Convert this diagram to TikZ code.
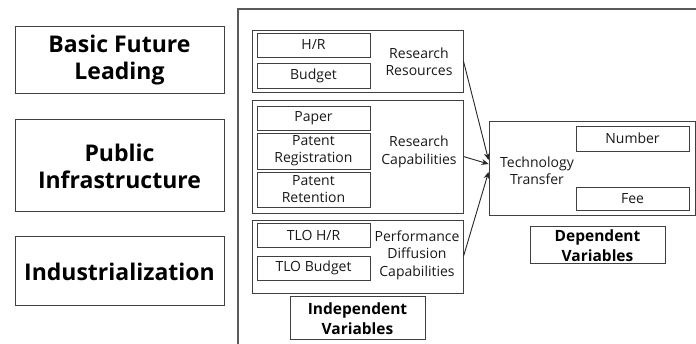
\documentclass[tikz,border=0pt]{standalone}
\usepackage{fontspec}
\setmainfont{Open Sans}
\usetikzlibrary{arrows.meta}

\tikzset{
  box/.style={draw=black!75, line width=0.9pt, inner sep=0pt, align=center, text=black!90, font=\fontsize{14}{17}\selectfont},
  bigbox/.style={box, line width=1pt, text=black, font=\fontsize{23}{27}\selectfont\bfseries},
  varbox/.style={box, line width=1pt, text=black, font=\fontsize{15.5}{20}\selectfont\bfseries},
  label/.style={align=center, inner sep=0pt, text=black!90, font=\fontsize{14}{17.5}\selectfont},
  link/.style={draw=black!85, line width=0.9pt, -{Stealth[length=7pt,width=6pt]}}
}

\begin{document}
\begin{tikzpicture}[x=1pt, y=-1pt]
\useasboundingbox (0,0) rectangle (696,344);

% left column
\node[bigbox, minimum width=209pt, minimum height=67pt] (basic) at (119.5,60.5) {Basic Future\\Leading};
\node[bigbox, minimum width=209pt, minimum height=92pt] (public) at (119.5,166) {Public\\Infrastructure};
\node[bigbox, minimum width=209pt, minimum height=69pt] (indus) at (119.5,271.5) {Industrialization};

% outer frame, cut by the page
\draw[black!65, line width=1.6pt] (238,346) |- (698,9);

% groups
\node[box, minimum width=211pt, minimum height=62pt] (res) at (357.5,61) {};
\node[box, minimum width=211pt, minimum height=113pt] (cap) at (357.5,156.5) {};
\node[box, minimum width=211pt, minimum height=73pt] (perf) at (357.5,256.5) {};

\node[box, minimum width=113pt, minimum height=24pt] (hr) at (313.5,45) {H/R};
\node[box, minimum width=113pt, minimum height=25pt] (budget) at (313.5,75.5) {Budget};
\node[box, minimum width=113pt, minimum height=24pt] (paper) at (313.5,118) {Paper};
\node[box, minimum width=113pt, minimum height=36pt] (patreg) at (313.5,151) {Patent\\Registration};
\node[box, minimum width=113pt, minimum height=35pt] (patret) at (313.5,189.5) {Patent\\Retention};
\node[box, minimum width=113pt, minimum height=24pt] (tlohr) at (313.5,235) {TLO H/R};
\node[box, minimum width=113pt, minimum height=24pt] (tlobudget) at (313.5,268) {TLO Budget};

\node[label] (reslab) at (419,62) {Research\\Resources};
\node[label] (caplab) at (419,152) {Research\\Capabilities};
\node[label] (perflab) at (417,255) {Performance\\Diffusion\\Capabilities};

\node[varbox, minimum width=135pt, minimum height=43pt] (indep) at (357.5,318.5) {Independent\\Variables};

% dependent side
\node[box, minimum width=206pt, minimum height=94pt] (tech) at (592,168) {};
\node[label] (techlab) at (537,171) {Technology\\Transfer};
\node[box, minimum width=113pt, minimum height=25pt] (number) at (632.5,138.5) {Number};
\node[box, minimum width=113pt, minimum height=23pt] (fee) at (632.5,198.5) {Fee};
\node[varbox, minimum width=135pt, minimum height=37pt] (dep) at (597.5,245.5) {Dependent\\Variables};

\draw[link] (res.east) -- ([yshift=8pt]tech.west);
\draw[link] (cap.east) -- ([yshift=4pt]tech.west);
\draw[link] (perf.east) -- ([yshift=-4pt]tech.west);
\end{tikzpicture}
\end{document}
